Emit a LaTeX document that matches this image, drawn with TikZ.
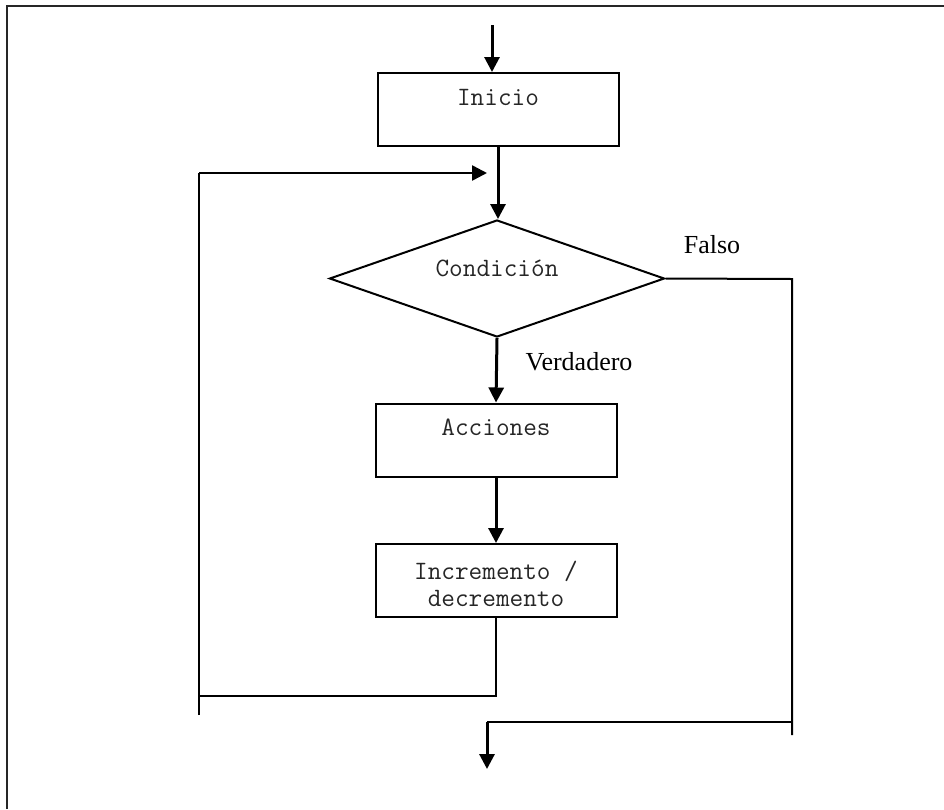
\documentclass[tikz,border=0pt]{standalone}
\usepackage{fontspec}
\setmainfont{Liberation Serif}
\usetikzlibrary{arrows.meta,shapes.geometric,calc}
\begin{document}
\begin{tikzpicture}[x=1pt,y=-1pt,
  box/.style={draw=black,line width=2pt,rectangle,minimum width=241pt,minimum height=73pt,inner sep=0pt},
  cond/.style={draw=black,line width=2pt,diamond,minimum width=335pt,minimum height=117pt,inner sep=0pt,aspect=2.86},
  mono/.style={font=\fontsize{26.5}{27}\selectfont\ttfamily,text=black!85,inner sep=0pt,align=center},
  lab/.style={font=\fontsize{26}{30}\selectfont,inner sep=0pt},
  arr/.style={line width=3pt,-{Triangle[width=15pt,length=15pt]}},
  ln/.style={line width=2pt},
  frame/.style={line width=2.5pt,draw=black!85}]
\useasboundingbox (0,0) rectangle (944,809);
% frame
\draw[frame] (7,809) -- (7,6) -- (944,6);
% nodes
\node[box] (inicio) at (498,109.5) {};
\node[mono] (tinicio) at (498,97) {Inicio};
\node[cond] (cond) at (497,278.5) {};
\node[mono] (tcond) at (497,268) {Condición};
\node[box] (acciones) at (496,440) {};
\node[mono] (tacciones) at (496,427) {Acciones};
\node[box] (incr) at (496,580.5) {};
\node[mono] (tincr) at (496,583.5) {Incremento /\\decremento};
\node[lab] (falso) at (712,245) {Falso};
\node[lab] (verd) at (579,362) {Verdadero};
% coordinates
\coordinate (start) at (492,25);
\coordinate (loopTL) at (199,173);
\coordinate (loopTip) at (487,173);
\coordinate (loopBL) at (199,715);
\coordinate (loopJoin) at (199,696);
\coordinate (rightTop) at (792,279);
\coordinate (rightBot) at (792,735);
\coordinate (exitR) at (792,722);
\coordinate (exitL) at (487,722);
\coordinate (exitTip) at (487,769);
% connectors
\draw[arr] (start) -- (start |- inicio.north);
\draw[arr] (inicio.south) -- (inicio.south |- cond.north);
\draw[arr] (cond.south) -- (acciones.north);
\draw[arr] (acciones.south) -- (incr.north);
\draw[ln] (incr.south) |- (loopJoin);
\draw[ln] (loopBL) -- (loopTL);
\draw[arr,line width=2.5pt] (loopTL) -- (loopTip);
\draw[ln] (cond.east) -- (rightTop) -- (rightBot);
\draw[ln] (exitR) -- (exitL);
\draw[arr] (exitL) -- (exitTip);
\end{tikzpicture}
\end{document}
